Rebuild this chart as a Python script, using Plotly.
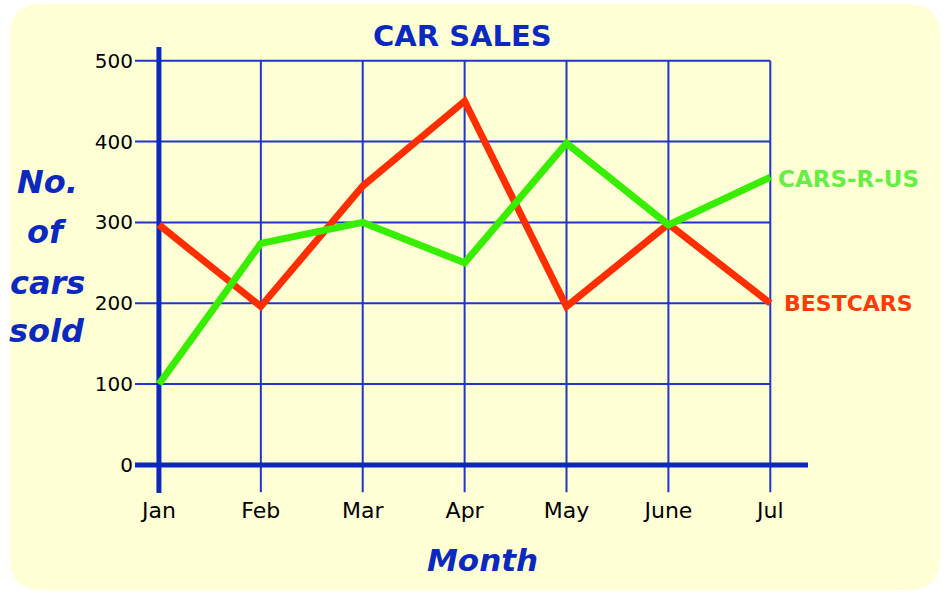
import plotly.graph_objects as go

# Monthly car sales for two dealers
months = ["Jan", "Feb", "Mar", "Apr", "May", "June", "Jul"]
bestcars = [297, 196, 345, 450, 196, 298, 200]
cars_r_us = [100, 274, 300, 250, 398, 297, 356]
y_ticks = [0, 100, 200, 300, 400, 500]
y_title_lines = ["No.", "of", "cars", "sold"]

W, H = 947, 594
BLUE = "#0b28c0"
GRID = "#1f36c8"
RED = "#ff2e00"
GREEN = "#38ee00"
FONT = "DejaVu Sans"

x_idx = list(range(len(months)))
x_lo, x_hi = -0.235, 6.37
y_lo, y_hi = -34.7, 517

fig = go.Figure()
fig.add_trace(go.Scatter(x=x_idx, y=bestcars, mode="lines",
                         line=dict(color=RED, width=7), name="BESTCARS",
                         showlegend=False))
fig.add_trace(go.Scatter(x=x_idx, y=cars_r_us, mode="lines",
                         line=dict(color=GREEN, width=7), name="CARS-R-US",
                         showlegend=False))

shapes = []
# rounded yellow panel behind everything (paper coordinates)
px0, px1, py0, py1, r = 10, 940, 4, 590, 32
def fx(p):
    return p / W
def fy(p):
    return 1 - p / H
path = (f"M {fx(px0 + r)},{fy(py0)} L {fx(px1 - r)},{fy(py0)} "
        f"Q {fx(px1)},{fy(py0)} {fx(px1)},{fy(py0 + r)} "
        f"L {fx(px1)},{fy(py1 - r)} Q {fx(px1)},{fy(py1)} {fx(px1 - r)},{fy(py1)} "
        f"L {fx(px0 + r)},{fy(py1)} Q {fx(px0)},{fy(py1)} {fx(px0)},{fy(py1 - r)} "
        f"L {fx(px0)},{fy(py0 + r)} Q {fx(px0)},{fy(py0)} {fx(px0 + r)},{fy(py0)} Z")
shapes.append(dict(type="path", path=path, xref="paper", yref="paper",
                   fillcolor="#ffffd6", line=dict(width=0), layer="below"))

# horizontal grid lines (extend left of the axis as tick marks)
for v in y_ticks[1:]:
    shapes.append(dict(type="line", xref="x", yref="y", x0=x_lo, x1=x_idx[-1],
                       y0=v, y1=v, line=dict(color=GRID, width=2), layer="below"))
# vertical grid lines (extend below the axis as tick marks)
for i in x_idx[1:]:
    shapes.append(dict(type="line", xref="x", yref="y", x0=i, x1=i,
                       y0=y_lo + 1, y1=y_ticks[-1], line=dict(color=GRID, width=2),
                       layer="below"))
# thick axes
shapes.append(dict(type="line", xref="x", yref="y", x0=x_lo, x1=x_hi, y0=0, y1=0,
                   line=dict(color=BLUE, width=5), layer="below"))
shapes.append(dict(type="line", xref="x", yref="y", x0=0, x1=0, y0=y_lo, y1=y_hi,
                   line=dict(color=BLUE, width=5), layer="below"))

annotations = [
    dict(text="<b>CAR SALES</b>", xref="paper", yref="paper", x=462 / W, y=fy(36),
         showarrow=False, font=dict(family=FONT, size=29, color=BLUE),
         xanchor="center", yanchor="middle"),
    dict(text="<b><i>Month</i></b>", xref="paper", yref="paper", x=482 / W, y=fy(560),
         showarrow=False, font=dict(family=FONT, size=31, color=BLUE),
         xanchor="center", yanchor="middle"),
    dict(text="<b>CARS-R-US</b>", xref="x", yref="y", x=x_idx[-1], y=cars_r_us[-1],
         xshift=6, yshift=-2, showarrow=False, xanchor="left", yanchor="middle",
         font=dict(family=FONT, size=23, color="#66ee44")),
    dict(text="<b>BESTCARS</b>", xref="x", yref="y", x=x_idx[-1], y=bestcars[-1],
         xshift=12, showarrow=False, xanchor="left", yanchor="middle",
         font=dict(family=FONT, size=22, color="#ff3a0a")),
]
# stacked y-axis title, one word per line
for word, yc in zip(y_title_lines, [182, 232, 283, 331]):
    annotations.append(dict(text=f"<b><i>{word}</i></b>", xref="paper", yref="paper",
                            x=47 / W, y=fy(yc), showarrow=False,
                            font=dict(family=FONT, size=32, color=BLUE),
                            xanchor="center", yanchor="middle"))

fig.update_layout(
    width=W, height=H,
    margin=dict(l=0, r=0, t=0, b=0),
    paper_bgcolor="white",
    plot_bgcolor="rgba(0,0,0,0)",
    shapes=shapes,
    annotations=annotations,
    xaxis=dict(domain=[135 / W, 808 / W], range=[x_lo, x_hi],
               tickvals=x_idx, ticktext=months, showgrid=False, zeroline=False,
               showline=False, ticks="", ticklabelstandoff=2,
               tickfont=dict(family=FONT, size=22, color="black")),
    yaxis=dict(domain=[1 - 493 / H, 1 - 47 / H], range=[y_lo, y_hi],
               tickvals=y_ticks, showgrid=False, zeroline=False, showline=False,
               ticks="", ticklabelstandoff=1,
               tickfont=dict(family=FONT, size=20, color="black")),
)

fig.write_html("out.html")
